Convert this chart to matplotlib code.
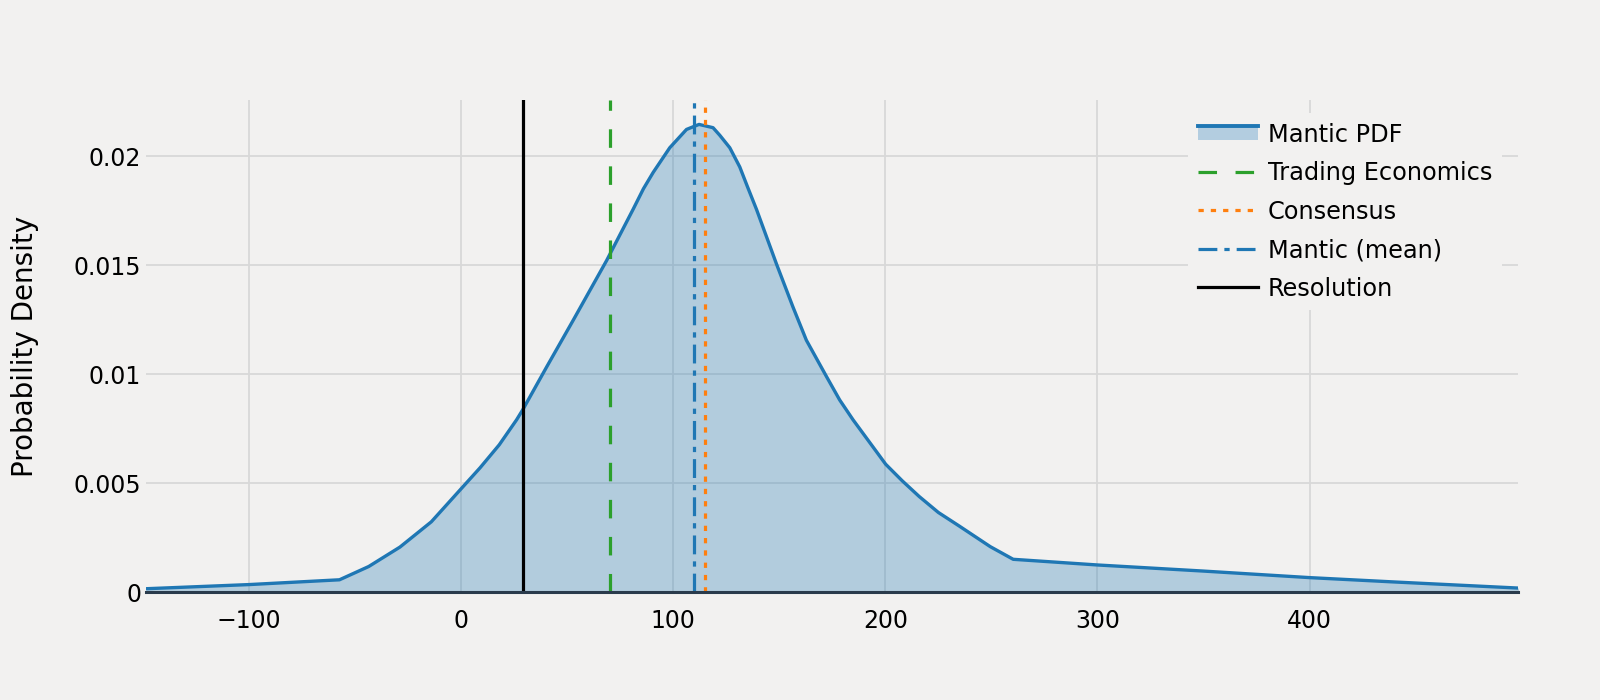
import matplotlib
matplotlib.use("Agg")
import matplotlib.pyplot as plt
from matplotlib.legend_handler import HandlerBase
from matplotlib.patches import Rectangle
from matplotlib.lines import Line2D

# density curve
pdf_x = [-148.5, -100, -57.3, -43.5, -28.8, -14, 0, 9, 18, 26.2, 29.1, 40.4, 52.9,
         68.6, 81.2, 86, 90.6, 98.4, 106.3, 112.2, 118.8, 122, 126.7, 131.4, 135,
         139.3, 148.7, 156.5, 162.8, 172.3, 178.5, 184.8, 200.2, 208, 216, 225,
         234.8, 249.5, 260.3, 300, 350, 400, 440, 498.5]
pdf_y = [0.00015, 0.00034, 0.00056, 0.00117, 0.00206, 0.00322, 0.00473, 0.0057,
         0.00675, 0.0079, 0.00836, 0.01033, 0.01247, 0.0152, 0.01757, 0.0185,
         0.01925, 0.02038, 0.02122, 0.02145, 0.0213, 0.02095, 0.02038, 0.0195,
         0.0186, 0.01755, 0.01505, 0.01307, 0.01155, 0.00988, 0.00881, 0.0079,
         0.00586, 0.0051, 0.00438, 0.00365, 0.00303, 0.00208, 0.0015, 0.00124,
         0.00096, 0.00066, 0.00046, 0.00018]

ref_names = ["Trading Economics", "Consensus", "Mantic (mean)", "Resolution"]
ref_values = [70, 115, 110, 29]
ref_colors = ["#2ca02c", "#ff7f0e", "#1f77b4", "#000000"]
ref_dashes = [(5.8, 5.8), (1.65, 2.2), (5.9, 2.2, 1.65, 2.2), None]

xticks = [-100, 0, 100, 200, 300, 400]
yticks = [0, 0.005, 0.01, 0.015, 0.02]
ytick_labels = ["0", "0.005", "0.01", "0.015", "0.02"]

bg = "#f2f1f0"
blue = "#1f77b4"


class FillHandler(HandlerBase):
    # plotly style legend entry: filled box with line on its top edge
    def create_artists(self, legend, orig, xd, yd, width, height, fontsize, trans):
        h = height * 0.8
        y0 = yd + (height - h) / 2
        rect = Rectangle((xd, y0), width, h, facecolor="#b3cde0", edgecolor="none",
                         transform=trans)
        line = Line2D([xd, width + xd], [y0 + h, y0 + h], color=blue, lw=2.8,
                      transform=trans)
        return [rect, line]


plt.rcParams['font.family'] = ['DejaVu Sans']
fig = plt.figure(figsize=(16, 7), dpi=100, facecolor=bg)
ax = fig.add_axes([146 / 1600, 1 - 592 / 700, (1518.5 - 146) / 1600, (592 - 100) / 700])
ax.set_facecolor(bg)

ax.fill_between(pdf_x, pdf_y, 0, color=blue, alpha=0.3, lw=0, zorder=2)
pdf_line, = ax.plot(pdf_x, pdf_y, color=blue, lw=2.4, zorder=3,
                    solid_joinstyle="round")

handles = [pdf_line]
for name, val, col, dsh in zip(ref_names, ref_values, ref_colors, ref_dashes):
    ln = ax.axvline(val, color=col, lw=2.3, zorder=4)
    if dsh is not None:
        ln.set_dashes(dsh)
    handles.append(ln)

ax.set_xlim(-148.5, 498.5)
ax.set_ylim(0, 0.02257)
ax.set_xticks(xticks)
ax.set_yticks(yticks)
ax.set_yticklabels(ytick_labels)
ax.grid(True, color="#d8d8d8", lw=1.3, zorder=0)
ax.set_axisbelow(True)
ax.tick_params(length=0, labelsize=17)
ax.tick_params(axis="x", pad=12)
ax.tick_params(axis="y", pad=3.5)
for s in ["top", "right", "left"]:
    ax.spines[s].set_visible(False)
ax.spines["bottom"].set_color("#2a3b4c")
ax.spines["bottom"].set_linewidth(2.2)
ax.spines["bottom"].set_zorder(5)
ax.set_ylabel("Probability Density", fontsize=20, labelpad=25)

labels = ["Mantic PDF"] + ref_names
leg = ax.legend(handles, labels, loc="upper left",
                bbox_to_anchor=(1188 / 1600, 1 - 113 / 700),
                bbox_transform=fig.transFigure, fontsize=17.3, frameon=True,
                facecolor=bg, edgecolor="none", framealpha=1, fancybox=False,
                handlelength=2.5, handletextpad=0.43, labelspacing=0.605,
                borderaxespad=0, handler_map={pdf_line: FillHandler()})

fig.savefig("out.png", dpi=100, facecolor=bg)
